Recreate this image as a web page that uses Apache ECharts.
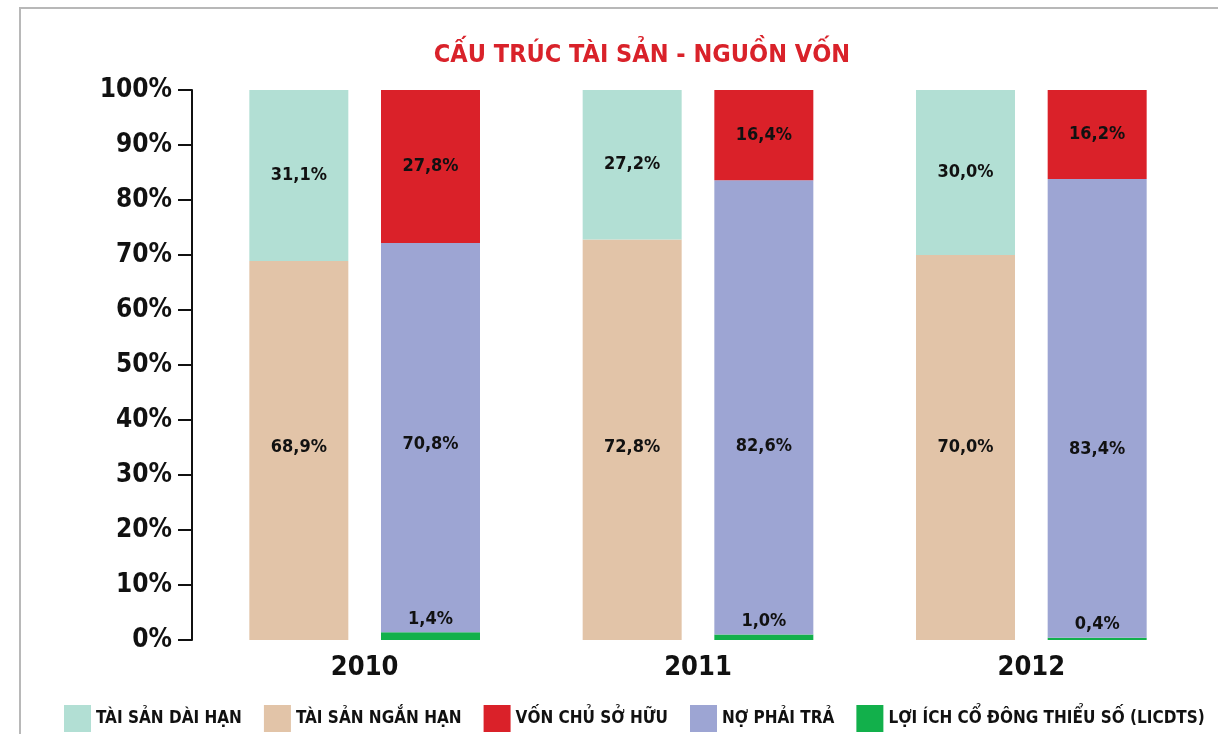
<!DOCTYPE html>
<html>
<head>
<meta charset="utf-8">
<title>Cấu trúc tài sản - nguồn vốn</title>
<script src="https://cdn.jsdelivr.net/npm/echarts@6/dist/echarts.min.js"></script>
<style>
  html, body { margin: 0; padding: 0; background: #fff; }
  #chart { width: 1218px; height: 734px; }
</style>
</head>
<body>
<div id="chart"></div>
<script>
var years = ["2010", "2011", "2012"];
var taiSanNganHan = [68.9, 72.8, 70.0];
var taiSanDaiHan = [31.1, 27.2, 30.0];
var loiIchCoDong = [1.4, 1.0, 0.4];
var noPhaiTra = [70.8, 82.6, 83.4];
var vonChuSoHuu = [27.8, 16.4, 16.2];
var yTicks = [0, 10, 20, 30, 40, 50, 60, 70, 80, 90, 100];

(function () {
  var font = "'Liberation Sans Narrow', 'DejaVu Sans Condensed', 'Roboto', sans-serif";
  var pct = function (p) {
    return p.value.toFixed(1).replace(".", ",") + "%";
  };
  var labelStyle = function (position, distance) {
    return { show: true, position: position, distance: distance, color: "#111", fontFamily: font, fontWeight: "bold", fontSize: 18, formatter: pct };
  };

  var option = {
    animation: false,
    backgroundColor: "#fff",
    title: {
      text: "CẤU TRÚC TÀI SẢN - NGUỒN VỐN",
      left: 637,
      top: 38,
      textAlign: "center",
      textStyle: { color: "#d9222a", fontFamily: font, fontWeight: "bold", fontSize: 25 },
    },
    graphic: [
      {
        type: "rect",
        shape: { x: 20, y: 8, width: 1260, height: 800 },
        style: { fill: "none", stroke: "#b8b8b8", lineWidth: 2 },
        silent: true,
      },
    ],
    legend: {
      data: ["TÀI SẢN DÀI HẠN", "TÀI SẢN NGẮN HẠN", "VỐN CHỦ SỞ HỮU", "NỢ PHẢI TRẢ", "LỢI ÍCH CỔ ĐÔNG THIỂU SỐ (LICDTS)"],
      left: 59,
      top: 700,
      orient: "horizontal",
      icon: "rect",
      itemWidth: 27,
      itemHeight: 27,
      itemGap: 22,
      textStyle: { color: "#111", fontFamily: font, fontWeight: "bold", fontSize: 17 },
    },
    grid: { left: 198, right: 20, top: 90, bottom: 94 },
    xAxis: {
      type: "category",
      data: years,
      axisLine: { show: false },
      axisTick: { show: false },
      axisLabel: { color: "#111", fontFamily: font, fontWeight: "bold", fontSize: 27, margin: 14 },
    },
    yAxis: {
      type: "value",
      min: yTicks[0],
      max: yTicks[yTicks.length - 1],
      interval: 10,
      offset: 6,
      axisLine: { show: true, lineStyle: { color: "#111", width: 2 } },
      axisTick: { show: true, length: 14, lineStyle: { color: "#111", width: 2 } },
      splitLine: { show: false },
      axisLabel: { color: "#111", fontFamily: font, fontWeight: "bold", fontSize: 26, margin: 20, formatter: "{value}%" },
    },
    series: [
      {
        name: "TÀI SẢN NGẮN HẠN",
        type: "bar",
        stack: "ts",
        barWidth: 99,
        barGap: "33%",
        data: taiSanNganHan,
        itemStyle: { color: "#e2c4a8" },
        label: labelStyle("insideBottom", 184),
      },
      {
        name: "TÀI SẢN DÀI HẠN",
        type: "bar",
        stack: "ts",
        barWidth: 99,
        data: taiSanDaiHan,
        itemStyle: { color: "#b2dfd4" },
        label: labelStyle("inside", 5),
      },
      {
        name: "LỢI ÍCH CỔ ĐÔNG THIỂU SỐ (LICDTS)",
        type: "bar",
        stack: "nv",
        barWidth: 99,
        barGap: "33%",
        data: loiIchCoDong,
        itemStyle: { color: "#12b04b" },
        label: labelStyle("top", 4),
      },
      {
        name: "NỢ PHẢI TRẢ",
        type: "bar",
        stack: "nv",
        barWidth: 99,
        data: noPhaiTra,
        itemStyle: { color: "#9da5d3" },
        label: labelStyle("insideBottom", 179),
      },
      {
        name: "VỐN CHỦ SỞ HỮU",
        type: "bar",
        stack: "nv",
        barWidth: 99,
        data: vonChuSoHuu,
        itemStyle: { color: "#da2129" },
        label: labelStyle("inside", 5),
      },
    ],
  };
  var myChart = echarts.init(document.getElementById("chart"));
  myChart.setOption(option);
})();
</script>
</body>
</html>
